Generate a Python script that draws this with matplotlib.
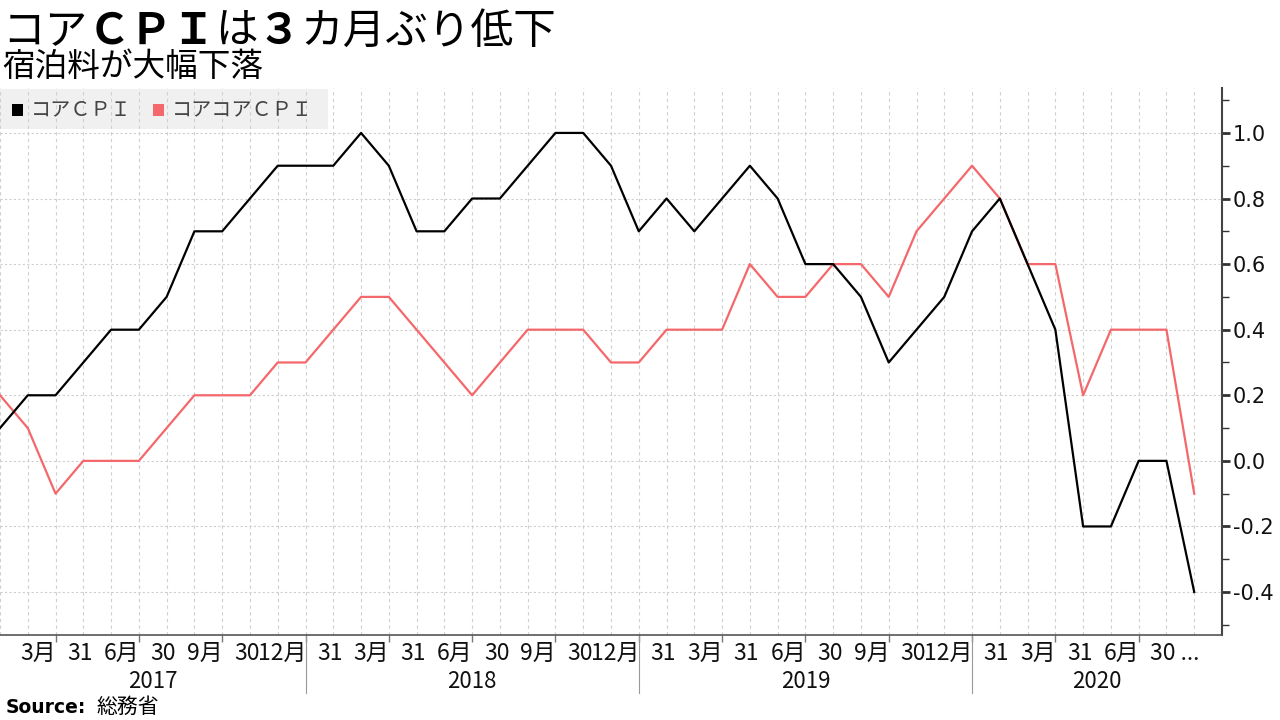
import numpy as np
import pandas as pd
import matplotlib
matplotlib.use('Agg')
import matplotlib.pyplot as plt
from matplotlib.patches import Rectangle
from matplotlib.ticker import MultipleLocator, FixedLocator, NullFormatter

plt.rcParams['font.family'] = ['Noto Sans CJK JP', 'DejaVu Sans']

# ---------------- data ----------------
dates = pd.date_range('2017-01-31', '2020-08-31', freq='ME')
core_cpi = [0.1, 0.2, 0.2, 0.3, 0.4, 0.4, 0.5, 0.7, 0.7, 0.8, 0.9, 0.9,
            0.9, 1.0, 0.9, 0.7, 0.7, 0.8, 0.8, 0.9, 1.0, 1.0, 0.9, 0.7,
            0.8, 0.7, 0.8, 0.9, 0.8, 0.6, 0.6, 0.5, 0.3, 0.4, 0.5, 0.7,
            0.8, 0.6, 0.4, -0.2, -0.2, 0.0, 0.0, -0.4]
core_core_cpi = [0.2, 0.1, -0.1, 0.0, 0.0, 0.0, 0.1, 0.2, 0.2, 0.2, 0.3, 0.3,
                 0.4, 0.5, 0.5, 0.4, 0.3, 0.2, 0.3, 0.4, 0.4, 0.4, 0.3, 0.3,
                 0.4, 0.4, 0.4, 0.6, 0.5, 0.5, 0.6, 0.6, 0.5, 0.7, 0.8, 0.9,
                 0.8, 0.6, 0.6, 0.2, 0.4, 0.4, 0.4, -0.1]
series_names = ['コアＣＰＩ', 'コアコアＣＰＩ']
series_colors = ['#000000', '#f4676b']

tick_months = ['3月', '6月', '9月', '12月', '3月', '6月', '9月', '12月',
               '3月', '6月', '9月', '12月', '3月', '6月']
tick_days = ['31', '30', '30', '31', '31', '30', '30', '31',
             '31', '30', '30', '31', '31', '30 ...']
year_labels = ['2017', '2018', '2019', '2020']
y_ticks = [-0.4, -0.2, 0.0, 0.2, 0.4, 0.6, 0.8, 1.0]

title_pieces = [('コア', 'normal'), ('ＣＰＩ', 'bold'), ('は', 'normal'),
                ('３', 'bold'), ('カ月ぶり低下', 'normal')]
subtitle = '宿泊料が大幅下落'

# ---------------- figure ----------------
W, H = 1280, 720
fig = plt.figure(figsize=(W / 100, H / 100), dpi=100)
fig.patch.set_facecolor('white')

ax_left, ax_right, ax_top, ax_bottom = 0, 1222, 88, 635
ax = fig.add_axes([ax_left / W, 1 - ax_bottom / H, (ax_right - ax_left) / W,
                   (ax_bottom - ax_top) / H])
ax.set_facecolor('white')

x = np.arange(len(dates))
ax.plot(x, core_core_cpi, color=series_colors[1], lw=1.6, zorder=3)
ax.plot(x, core_cpi, color=series_colors[0], lw=1.6, zorder=4)

ymin, ymax = -0.531, 1.137
ax.set_xlim(0, len(dates))
ax.set_ylim(ymin, ymax)

# y axis on right
ax.yaxis.tick_right()
ax.set_yticks(y_ticks)
ax.set_yticklabels([f'{v:.1f}' for v in y_ticks], family='DejaVu Sans',
                   fontsize=15, color='#111111')
ax.yaxis.set_minor_locator(MultipleLocator(0.1))
ax.tick_params(axis='y', which='major', length=6, width=2, color='#333333', pad=2)
ax.tick_params(axis='y', which='minor', length=5, width=1, color='#333333')

# x axis
q_idx = [i for i, d in enumerate(dates) if d.month in (3, 6, 9, 12)]
ax.xaxis.set_major_locator(FixedLocator(q_idx))
ax.xaxis.set_major_formatter(NullFormatter())
ax.xaxis.set_minor_locator(MultipleLocator(1))
ax.tick_params(axis='x', which='major', length=5, width=1, color='#777777')
ax.tick_params(axis='x', which='minor', length=0)

for s in ['left', 'top']:
    ax.spines[s].set_visible(False)
ax.spines['right'].set_color('#444444')
ax.spines['right'].set_linewidth(1.5)
ax.spines['bottom'].set_color('#555555')
ax.spines['bottom'].set_linewidth(1.2)

ax.set_axisbelow(True)
ax.grid(axis='x', which='both', color='#cfcfcf', lw=0.8, ls=(0, (3, 3)))
ax.grid(axis='y', which='major', color='#cfcfcf', lw=0.8, ls=(0, (2, 2)))

axh = ax_bottom - ax_top
xt = ax.get_xaxis_transform()
for i, mlab, dlab in zip(q_idx, tick_months, tick_days):
    ax.text(i + 0.02, -(653 - ax_bottom) / axh, mlab, transform=xt, ha='right',
            va='center', fontsize=16.5, color='#111111')
    ax.text(i + 0.42, -(653 - ax_bottom) / axh, dlab, transform=xt, ha='left',
            va='center', fontsize=16.5, color='#111111')

# year separators and labels
year_bounds = [0] + [i for i, d in enumerate(dates)
                     if d.month == 12 and i < len(dates) - 1] + [len(dates)]
for b in year_bounds[1:-1]:
    ax.plot([b, b], [0, -(693 - ax_bottom) / axh], transform=xt,
            color='#999999', lw=0.8, clip_on=False)
for lab, a, b in zip(year_labels, year_bounds[:-1], year_bounds[1:]):
    ax.text((a + b) / 2, -(681 - ax_bottom) / axh, lab, transform=xt,
            ha='center', va='center', fontsize=16, color='#111111')

# legend (manual)
ppu = axh / (ymax - ymin)
ax.add_patch(Rectangle((0, ymax - (129 - ax_top) / ppu), 328 / 27.77,
                       40 / ppu, facecolor='#f0f0f0', edgecolor='none',
                       zorder=0.2))
leg_y = 1 - 110 / H
fig.patches.append(Rectangle((12 / W, leg_y - 6 / H), 11 / W, 12 / H,
                             transform=fig.transFigure,
                             facecolor=series_colors[0], edgecolor='none'))
fig.text(31 / W, leg_y, series_names[0], ha='left', va='center', fontsize=14.5,
         color='#444444')
fig.patches.append(Rectangle((153 / W, leg_y - 6 / H), 11 / W, 12 / H,
                             transform=fig.transFigure,
                             facecolor=series_colors[1], edgecolor='none'))
fig.text(172 / W, leg_y, series_names[1], ha='left', va='center', fontsize=14.5,
         color='#444444')

# title pieces
renderer = fig.canvas.get_renderer()
xpos = 2
for txt, wt in title_pieces:
    t = fig.text(xpos / W, 1 - 44 / H, txt, fontsize=30.7, fontweight=wt,
                 ha='left', va='baseline', color='#000000')
    bb = t.get_window_extent(renderer=renderer)
    xpos += bb.width

fig.text(2 / W, 1 - 76 / H, subtitle, fontsize=23.5, ha='left', va='baseline',
         color='#000000')

# source
t = fig.text(6 / W, 1 - 713 / H, 'Source:', fontsize=13.5, fontweight='bold',
             family='DejaVu Sans', ha='left', va='baseline', color='#000000')
bb = t.get_window_extent(renderer=renderer)
fig.text((6 + bb.width + 10) / W, 1 - 713 / H, '総務省', fontsize=15,
         ha='left', va='baseline', color='#000000')

fig.savefig('out.png', dpi=100)
